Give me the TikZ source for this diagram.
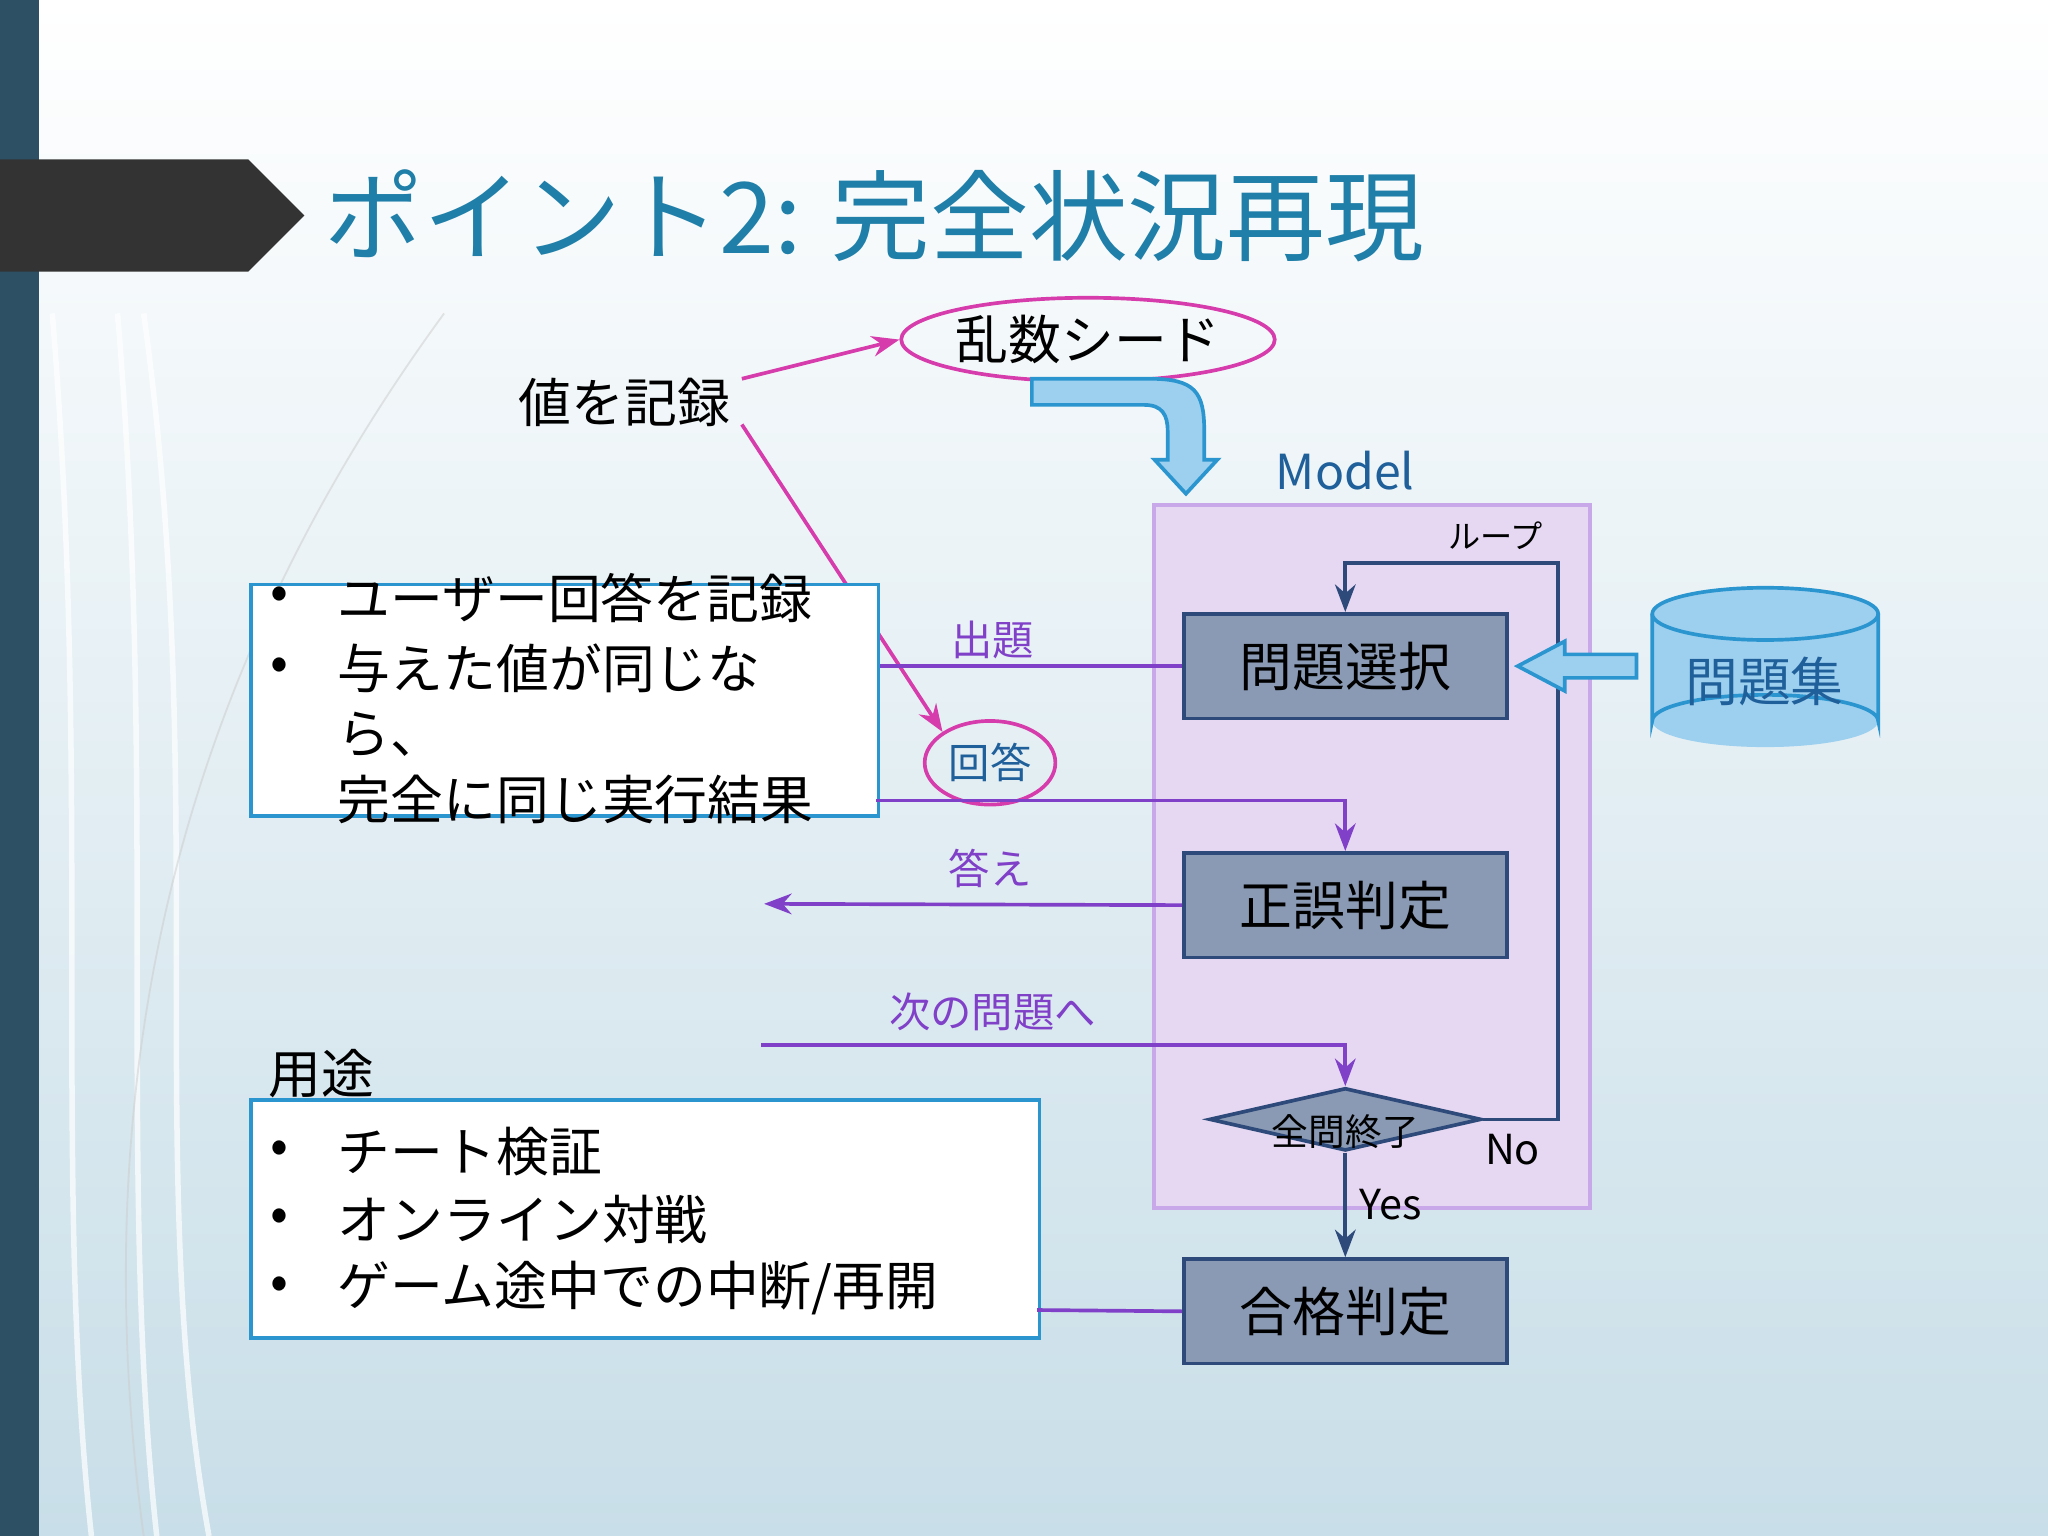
\documentclass[tikz,border=0pt]{standalone}
\usepackage{fontspec}
\setmainfont{Noto Sans CJK JP}
\usetikzlibrary{shapes.geometric,arrows.meta}
\definecolor{titleblue}{RGB}{31,127,168}
\definecolor{bar}{RGB}{46,80,100}
\definecolor{mag}{RGB}{214,60,171}
\definecolor{purp}{RGB}{128,64,200}
\definecolor{boxfill}{RGB}{138,154,180}
\definecolor{boxedge}{RGB}{46,74,122}
\definecolor{lav}{RGB}{230,216,243}
\definecolor{lavedge}{RGB}{200,168,232}
\definecolor{lblue}{RGB}{157,207,239}
\definecolor{dblue}{RGB}{43,149,207}
\definecolor{txtblue}{RGB}{31,95,154}
\tikzset{
 pbox/.style={draw=boxedge,thick,fill=boxfill,minimum width=2.47cm,minimum height=0.8cm,font=\fontsize{11.5}{13}\selectfont},
 wbox/.style={draw=dblue,thick,fill=white},
 txt/.style={font=\fontsize{11.5}{13}\selectfont,inner sep=0pt},
 lbl/.style={font=\fontsize{9}{10}\selectfont,inner sep=0pt},
 pline/.style={draw=purp,thick},
 mline/.style={draw=mag,thick,-{Stealth[length=6pt]}},
 bline/.style={draw=boxedge,thick},
}
\begin{document}
\begin{tikzpicture}[x=0.01cm,y=-0.01cm]
\useasboundingbox (0,0) rectangle (1568,1176);
\shade[top color=white,bottom color={rgb,255:red,200;green,222;blue,232}] (0,0) rectangle (1568,1176);
\fill[bar] (0,0) rectangle (30,1176);
\foreach \a/\b in {90/120,110/160,40/70}{
 \draw[white,opacity=0.7,line width=1.2pt] (\a,240) .. controls (\b,600) and (\a,900) .. (\b,1176);}
\draw[gray!40,opacity=0.5] (340,240) .. controls (150,500) and (60,800) .. (110,1176);
\fill[black!80] (0,122) -- (190,122) -- (233,165) -- (190,208) -- (0,208) -- cycle;
\node[anchor=west,text=titleblue,font=\fontsize{21.5}{24}\selectfont,inner sep=0pt] (title) at (248,165) {ポイント2: 完全状況再現};
% model
\node[draw=lavedge,thick,fill=lav,minimum width=3.34cm,minimum height=5.38cm,anchor=north west,inner sep=0pt] (model) at (882,385) {};
\node[text=txtblue,font=\fontsize{10.5}{12}\selectfont,inner sep=0pt] (modell) at (1030,360) {Model};
\node[lbl,font=\fontsize{7}{8}\selectfont] (loopl) at (1145,410) {ループ};
\node[pbox] (sel) at (1030,510) {問題選択};
\node[pbox] (judge) at (1030,693) {正誤判定};
\node[pbox] (pass) at (1030,1004) {合格判定};
\node[diamond,draw=boxedge,thick,fill=boxfill,aspect=4.3,minimum width=2.08cm,minimum height=0.48cm,inner sep=0pt] (dia) at (1030,857) {};
\node[lbl,font=\fontsize{8}{9}\selectfont] (dial) at (1030,866) {全問終了};
\coordinate (lr) at (1193,857);
\coordinate (lt) at (1193,431);
\draw[bline,-{Stealth[length=6pt]}] (dia.east) -- (lr) -- (lt) -- (1030,431) -- (sel.north);
\draw[bline,-{Stealth[length=6pt]}] (dia.south) -- (pass.north);
\node[lbl] (yes) at (1065,922) {Yes};
\node[lbl] (no) at (1158,880) {No};
% cylinder
\fill[lblue] (1265,470) rectangle (1438,552);
\fill[lblue] (1351.5,552) ellipse (86.5 and 20);
\draw[dblue,thick] (1265,470) -- (1265,552) arc (180:360:86.5 and 20) -- (1438,470);
\draw[dblue,thick,fill=lblue] (1351.5,470) ellipse (86.5 and 20);
\node[font=\fontsize{11.5}{13}\selectfont,text=txtblue] (db) at (1351,522) {問題集};
\draw[dblue,thick,fill=lblue] (1253,501) -- (1198,501) -- (1198,491) -- (1162,510) -- (1198,529) -- (1198,519) -- (1253,519) -- cycle;
% seed
\node[draw=mag,thick,ellipse,minimum width=2.44cm,minimum height=0.64cm,txt] (seed) at (833,260) {乱数シード};
\draw[dblue,thick,fill=lblue] (790,290) -- (880,290) .. controls (915,290) and (922,300) .. (922,330) -- (922,352) -- (932,352) -- (908,378) -- (884,352) -- (894,352) -- (894,330) .. controls (894,318) and (890,310) .. (876,310) -- (790,310) -- cycle;
\node[txt] (rec) at (478,308) {値を記録};
\node[draw=mag,thick,ellipse,minimum width=1.0cm,minimum height=0.64cm,lbl,text=txtblue] (ans) at (758,584) {回答};
\draw[mline] (568,290) -- (seed.west);
\draw[mline] (568,325) -- (ans.north west);
% box1
\node[wbox,minimum width=4.8cm,minimum height=1.77cm,anchor=north west,inner sep=0pt] (b1) at (191,446) {};
\foreach \y/\t in {458/ユーザー回答を記録,512/与えた値が同じな}{\node[txt] at (214,\y) {•}; \node[txt,anchor=west] at (258,\y) {\t};}
\node[txt,anchor=west] (b1c) at (258,562) {ら、};
\node[txt,anchor=west] (b1d) at (258,612) {完全に同じ実行結果};
\draw[pline] (b1.east |- sel) -- (sel.west);
\node[lbl,text=purp] (l1) at (760,490) {出題};
\draw[pline,-{Stealth[length=6pt]}] (671,613) -- (1030,613) -- (judge.north);
\coordinate (ansend) at (585,692);
\draw[pline,-{Stealth[length=6pt]}] (judge.west) -- (ansend);
\node[lbl,text=purp] (l2) at (758,665) {答え};
\coordinate (nx) at (583,800);
\draw[pline,-{Stealth[length=6pt]}] (nx) -- (1030,800) -- (dia.north);
\node[lbl,text=purp] (l3) at (760,775) {次の問題へ};
% box2
\node[txt] (use) at (246,822) {用途};
\node[wbox,minimum width=6.03cm,minimum height=1.82cm,anchor=north west,inner sep=0pt] (b2) at (191,841) {};
\foreach \y/\t in {882/{チート検証},934/{オンライン対戦},986/{ゲーム途中での中断/再開}}{\node[txt] at (214,\y) {•}; \node[txt,anchor=west] at (258,\y) {\t};}
\draw[pline] (794,1003) -- (pass.west);
\end{tikzpicture}
\end{document}
